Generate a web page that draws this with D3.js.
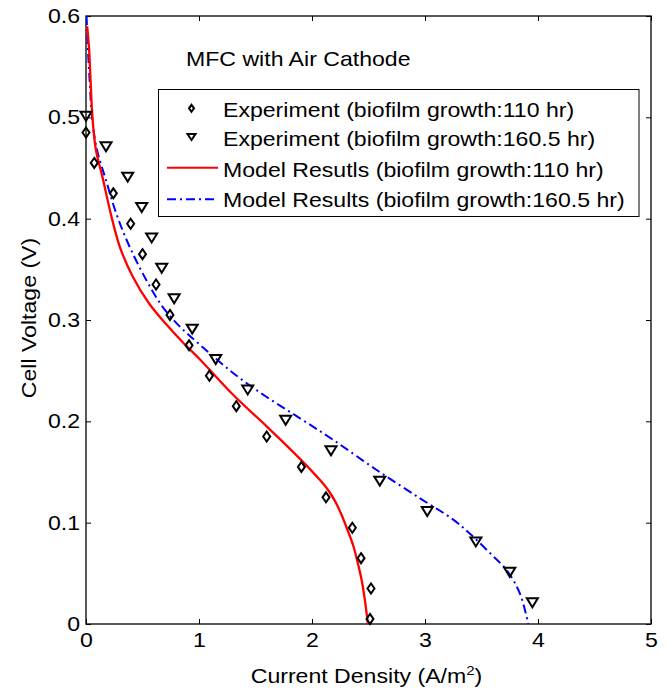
<!DOCTYPE html>
<html>
<head>
<meta charset="utf-8">
<script src="https://cdn.jsdelivr.net/npm/d3@7"></script>
<style>
  html, body { margin: 0; padding: 0; background: #fff; }
  svg { display: block; font-family: "Liberation Sans", Arial, sans-serif; }
</style>
</head>
<body>
<svg id="chart" width="670" height="691"></svg>
<script>
// ---------- data ----------
const exp110X = [0.0, 0.073, 0.242, 0.395, 0.50, 0.62, 0.743, 0.912, 1.092, 1.330, 1.599, 1.906, 2.124, 2.357, 2.434, 2.522, 2.513];
const exp110Y = [0.485, 0.455, 0.425, 0.395, 0.365, 0.335, 0.305, 0.275, 0.245, 0.215, 0.185, 0.155, 0.125, 0.095, 0.065, 0.035, 0.005];

const exp160X = [0.0, 0.177, 0.369, 0.493, 0.581, 0.67, 0.78, 0.94, 1.148, 1.431, 1.767, 2.168, 2.60, 3.02, 3.45, 3.75, 3.95];
const exp160Y = [0.50, 0.47, 0.44, 0.41, 0.38, 0.35, 0.32, 0.29, 0.26, 0.23, 0.20, 0.17, 0.14, 0.11, 0.08, 0.05, 0.02];

const model110X = [0.010, 0.027, 0.041, 0.056, 0.086, 0.148, 0.221, 0.300, 0.413, 0.560, 0.708, 0.856, 1.009, 1.304, 1.599, 1.894, 2.071, 2.150, 2.210, 2.260, 2.310, 2.366, 2.41, 2.44, 2.47, 2.486, 2.495];
const model110Y = [0.590, 0.568, 0.535, 0.502, 0.469, 0.440, 0.404, 0.372, 0.343, 0.316, 0.296, 0.278, 0.261, 0.226, 0.195, 0.163, 0.142, 0.131, 0.120, 0.108, 0.094, 0.077, 0.058, 0.043, 0.022, 0.008, 0.0];

const model160X = [0.005, 0.018, 0.033, 0.052, 0.095, 0.177, 0.265, 0.383, 0.531, 0.678, 0.826, 1.009, 1.304, 1.599, 1.894, 2.189, 2.572, 2.956, 3.25, 3.398, 3.575, 3.723, 3.84, 3.914];
const model160Y = [0.600, 0.565, 0.535, 0.502, 0.469, 0.438, 0.406, 0.373, 0.340, 0.313, 0.294, 0.2755, 0.2475, 0.224, 0.203, 0.1816, 0.152, 0.124, 0.103, 0.089, 0.070, 0.053, 0.030, 0.0];

const xTicks = [0, 1, 2, 3, 4, 5];
const yTicks = [0, 0.1, 0.2, 0.3, 0.4, 0.5, 0.6];
const legendLabels = [
  "Experiment (biofilm growth:110 hr)",
  "Experiment (biofilm growth:160.5 hr)",
  "Model Resutls (biofilm growth:110 hr)",
  "Model Results (biofilm growth:160.5 hr)"
];
const annotation = "MFC with Air Cathode";

// ---------- layout ----------
const svg = d3.select("#chart");
const L = 86, R = 651, T = 16, B = 624;
const x = d3.scaleLinear().domain([0, 5]).range([L, R]);
const y = d3.scaleLinear().domain([0, 0.6]).range([B, T]);
const fontSize = 20;
const sx = 1.155; // horizontal glyph stretch of the reference rendering

function addText(parent, px, py, str, anchor) {
  return parent.append("text")
    .attr("transform", `translate(${px},${py}) scale(${sx},1)`)
    .attr("text-anchor", anchor || "start")
    .style("font-size", fontSize + "px")
    .attr("fill", "#000")
    .text(str);
}

const tickLen = 5;
const tickFmt = d => d === 0 ? "0" : d3.format("")(d);

const gxB = svg.append("g").attr("transform", `translate(0,${B})`)
  .call(d3.axisBottom(x).tickValues(xTicks).tickSize(-tickLen).tickPadding(9).tickFormat(tickFmt));
const gxT = svg.append("g").attr("transform", `translate(0,${T})`)
  .call(d3.axisTop(x).tickValues(xTicks).tickSize(-tickLen).tickFormat(""));
const gyL = svg.append("g").attr("transform", `translate(${L},0)`)
  .call(d3.axisLeft(y).tickValues(yTicks).tickSize(-tickLen).tickPadding(5.3).tickFormat(tickFmt));
const gyR = svg.append("g").attr("transform", `translate(${R},0)`)
  .call(d3.axisRight(y).tickValues(yTicks).tickSize(-tickLen).tickFormat(""));

[gxB, gxT, gyL, gyR].forEach(a => {
  a.select(".domain").remove();
  a.selectAll(".tick line").attr("stroke", "#000").attr("stroke-width", 1);
  a.selectAll("text").attr("fill", "#000").style("font-size", fontSize + "px")
    .style("font-family", '"Liberation Sans", Arial, sans-serif')
    .attr("transform", `scale(${sx},1)`);
});
gyL.selectAll(".tick text").attr("x", -6 / sx);

// box
svg.append("rect").attr("x", L).attr("y", T).attr("width", R - L).attr("height", B - T)
  .attr("fill", "none").attr("stroke", "#000").attr("stroke-width", 1.3);

// clip
svg.append("clipPath").attr("id", "clip").append("rect")
  .attr("x", L).attr("y", T - 2).attr("width", R - L).attr("height", B - T + 2);

const plot = svg.append("g").attr("clip-path", "url(#clip)");

const line = d3.line().x(d => x(d[0])).y(d => y(d[1])).curve(d3.curveCatmullRom.alpha(0.5));

// model 160.5 (blue dash-dot)
plot.append("path")
  .attr("d", line(d3.zip(model160X, model160Y)))
  .attr("fill", "none").attr("stroke", "#0000ff").attr("stroke-width", 2)
  .attr("stroke-dasharray", "9,4,2,4");

// model 110 (red solid)
plot.append("path")
  .attr("d", line(d3.zip(model110X, model110Y)))
  .attr("fill", "none").attr("stroke", "#ff0000").attr("stroke-width", 2.3);

// markers
function diamondPath(cx, cy, w, h) {
  return `M${cx},${cy - h / 2}L${cx + w / 2},${cy}L${cx},${cy + h / 2}L${cx - w / 2},${cy}Z`;
}
function triPath(cx, cy, w, h) {
  return `M${cx - w / 2},${cy - h / 2}L${cx + w / 2},${cy - h / 2}L${cx},${cy + h / 2}Z`;
}

svg.append("g").selectAll("path").data(d3.zip(exp110X, exp110Y)).join("path")
  .attr("d", d => diamondPath(x(d[0]), y(d[1]), 7, 10))
  .attr("fill", "none").attr("stroke", "#000").attr("stroke-width", 2);

svg.append("g").selectAll("path").data(d3.zip(exp160X, exp160Y)).join("path")
  .attr("d", d => triPath(x(d[0]), y(d[1]) - 1, 11, 9))
  .attr("fill", "none").attr("stroke", "#000").attr("stroke-width", 2);

// annotation
addText(svg, 186, 66, annotation);

// legend
const lg = svg.append("g");
lg.append("rect").attr("x", 158.5).attr("y", 89.5).attr("width", 480.5).attr("height", 127)
  .attr("fill", "#fff").attr("stroke", "#000").attr("stroke-width", 1);
const textBase = [116.5, 146, 176.5, 206.5];
const markY = [108.3, 137, 167.7, 199.3];
legendLabels.forEach((lab, i) => addText(lg, 223, textBase[i], lab));
lg.append("path").attr("d", diamondPath(191.5, markY[0], 5, 7))
  .attr("fill", "none").attr("stroke", "#000").attr("stroke-width", 2);
lg.append("path").attr("d", triPath(191.5, markY[1], 8, 6))
  .attr("fill", "none").attr("stroke", "#000").attr("stroke-width", 2);
lg.append("line").attr("x1", 167).attr("x2", 218).attr("y1", markY[2]).attr("y2", markY[2])
  .attr("stroke", "#ff0000").attr("stroke-width", 2);
lg.append("line").attr("x1", 167).attr("x2", 218).attr("y1", markY[3]).attr("y2", markY[3])
  .attr("stroke", "#0000ff").attr("stroke-width", 2).attr("stroke-dasharray", "9,4,2,4");

// axis labels
const xl = addText(svg, 366.5, 683, "", "middle").text(null);
xl.append("tspan").text("Current Density (A/m");
xl.append("tspan").attr("dy", -8).style("font-size", "13px").text("2");
xl.append("tspan").attr("dy", 8).text(")");

svg.append("text").attr("transform", `translate(36,318) rotate(-90) scale(${sx},1)`)
  .attr("text-anchor", "middle").style("font-size", fontSize + "px").attr("fill", "#000")
  .text("Cell Voltage (V)");
</script>
</body>
</html>
